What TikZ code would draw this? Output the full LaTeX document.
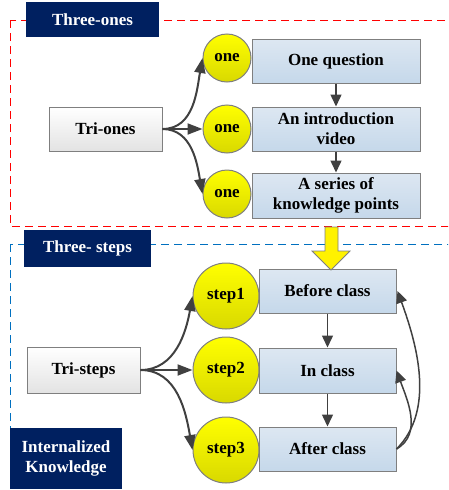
\documentclass[tikz,border=0pt]{standalone}
\usepackage{fontspec}
\setmainfont{Liberation Serif}[BoldFont={Liberation Serif Bold}]
\usetikzlibrary{arrows.meta}
\definecolor{navy}{HTML}{002060}
\definecolor{conncol}{HTML}{404040}
\definecolor{edgecol}{HTML}{7F7F7F}
\definecolor{bluetop}{HTML}{DDE7F2}
\definecolor{bluebot}{HTML}{C5D8EA}
\definecolor{redd}{HTML}{FF0000}
\definecolor{blued}{HTML}{0070C0}
\tikzset{
  txt/.style={font=\rmfamily\fontsize{17}{20}\selectfont\bfseries, align=center, inner sep=0pt},
  header/.style={txt, fill=navy, text=white, draw=none},
  graybox/.style={txt, draw=edgecol, line width=1pt, top color=white, bottom color=gray!22},
  bluebox/.style={txt, draw=edgecol, line width=1pt, top color=bluetop, bottom color=bluebot},
  ball/.style={txt, circle, draw=edgecol, line width=1pt, top color=yellow, bottom color=yellow!85!black},
  conn/.style={draw=conncol, line width=2pt, -{Triangle[length=15pt,width=11pt]}},
  vconn/.style={draw=conncol, line width=1.5pt, -{Triangle[length=12pt,width=11pt]}},
}
\begin{document}
\begin{tikzpicture}[x=1pt,y=-1pt]
\useasboundingbox (0,0) rectangle (448,490);
\begin{scope}
\clip (0,0) rectangle (448,490);
\draw[redd, line width=1pt, dash pattern=on 8pt off 5pt] (10,20) rectangle (470,226);
\draw[blued, line width=1pt, dash pattern=on 8pt off 5pt] (10,244) rectangle (470,520);
\end{scope}

% headers
\node[header, minimum width=133, minimum height=35] (h1) at (92.5,19.5) {Three-ones};
\node[header, minimum width=127, minimum height=37] (h2) at (87.5,248.5) {Three- steps};
\node[header, minimum width=112, minimum height=61] (h3) at (66,458.5) {Internalized\\Knowledge};

% top section
\node[graybox, minimum width=113, minimum height=44] (tri1) at (105.5,129) {Tri-ones};
\node[ball, minimum size=48] (o1) at (227,58) {one};
\node[ball, minimum size=48] (o2) at (227,129) {one};
\node[ball, minimum size=48] (o3) at (227,194) {one};
\node[bluebox, minimum width=168, minimum height=44] (q1) at (336,61) {One question};
\node[bluebox, minimum width=168, minimum height=44] (q2) at (336,129) {An introduction\\video};
\node[bluebox, minimum width=168, minimum height=45] (q3) at (336,195.5) {A series of\\knowledge points};

\draw[conn] (tri1.east) to[out=0,in=-100] (o1.west);
\draw[conn] (tri1.east) -- (o2.west);
\draw[conn] (tri1.east) to[out=0,in=100] (o3.west);
\draw[vconn] (q1.south) -- (q2.north);
\draw[vconn] (q2.south) -- (q3.north);

% bottom section
\node[graybox, minimum width=113, minimum height=46] (tri2) at (83.5,370) {Tri-steps};
\node[ball, minimum size=66] (s1) at (226,296) {step1};
\node[ball, minimum size=66] (s2) at (226,370) {step2};
\node[ball, minimum size=66] (s3) at (226,450) {step3};
\node[bluebox, minimum width=137, minimum height=44] (c1) at (327.5,291) {Before class};
\node[bluebox, minimum width=137, minimum height=45] (c2) at (327.5,370.5) {In class};
\node[bluebox, minimum width=137, minimum height=44] (c3) at (327.5,449) {After class};

\draw[conn] (tri2.east) to[out=0,in=-100] (s1.west);
\draw[conn] (tri2.east) -- (s2.west);
\draw[conn] (tri2.east) to[out=0,in=100] (s3.west);
\draw[vconn] (c1.south) -- (c2.north);
\draw[vconn] (c2.south) -- (c3.north);
\draw[vconn] (c3.east) to[out=30,in=-70] (c2.east);
\draw[vconn] (c3.east) to[out=45,in=-70,looseness=0.9] ([xshift=1pt]c1.east);

% big yellow arrow
\filldraw[fill=yellow, draw=edgecol, line width=0.8pt]
  (325,227) -- (338,227) -- (338,251) -- (350,251) -- (331,270) -- (312,251) -- (325,251) -- cycle;
\end{tikzpicture}
\end{document}
